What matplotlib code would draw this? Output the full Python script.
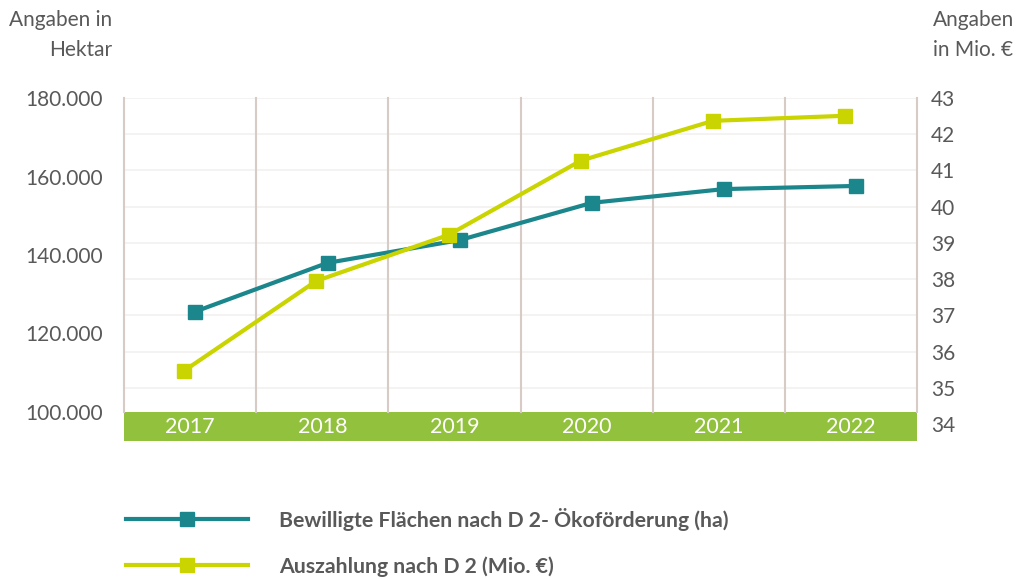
import matplotlib.pyplot as plt
import numpy as np
from matplotlib.lines import Line2D
from matplotlib.ticker import FuncFormatter
from matplotlib.transforms import blended_transform_factory

years = ["2017", "2018", "2019", "2020", "2021", "2022"]
flaechen_ha = [125600, 138000, 143800, 153300, 156800, 157600]
auszahlung_mio = [35.47, 37.95, 39.22, 41.27, 42.37, 42.51]

left_ticks = [100000, 120000, 140000, 160000, 180000]
right_ticks = [34, 35, 36, 37, 38, 39, 40, 41, 42, 43]

label_flaechen = "Bewilligte Flächen nach D 2- Ökoförderung (ha)"
label_auszahlung = "Auszahlung nach D 2 (Mio. €)"

teal = "#1b868b"
lime = "#c9d400"
band = "#92c13e"
grey = "#595959"
vgrid = "#d8cbc5"
hgrid = "#f3f1ef"

plt.rcParams["font.family"] = ["Lato", "DejaVu Sans"]

fig = plt.figure(figsize=(10.2, 5.79), dpi=100)
ax = fig.add_axes([0.1216, 0.2383, 0.7775, 0.5924])
ax2 = ax.twinx()

x = np.arange(len(years)) + 0.5

ax.set_xlim(0, len(years))
ax.set_ylim(92600, 180000)
ax2.set_ylim(33.53, 43)

# faint horizontal grid at the right-axis ticks, drawn behind everything
trans = blended_transform_factory(ax.transData, ax2.transData)
for t in right_ticks[1:]:
    ax.plot([0, len(years)], [t, t], color=hgrid, lw=1.2, zorder=0,
            transform=trans)

# green category band with the year labels
ax.axhspan(ax.get_ylim()[0], left_ticks[0], color=band, zorder=1, lw=0)
for xi, yr in zip(x, years):
    ax.text(xi, (ax.get_ylim()[0] + left_ticks[0]) / 2, yr, ha="center",
            va="center", color="white", fontsize=15.5, zorder=2)

# vertical separators between categories
for b in range(len(years) + 1):
    ax.plot([b, b], [left_ticks[0], 180000], color=vgrid, lw=1.5, zorder=1,
            clip_on=False)

ax.plot(x + 0.04, flaechen_ha, color=teal, lw=3, marker="s", ms=9.5,
        zorder=5)
ax2.plot(x - 0.045, auszahlung_mio, color=lime, lw=3, marker="s", ms=9.5,
         zorder=5)
ax2.set_zorder(ax.get_zorder() + 1)
ax2.patch.set_visible(False)

ax.set_yticks(left_ticks)
ax.yaxis.set_major_formatter(
    FuncFormatter(lambda v, p: f"{int(v):,}".replace(",", ".")))
ax2.set_yticks(right_ticks)
ax.set_xticks([])

for a in (ax, ax2):
    a.tick_params(axis="y", length=0, labelsize=15, labelcolor=grey)
    for s in a.spines.values():
        s.set_visible(False)
ax.tick_params(axis="y", pad=15)
ax2.tick_params(axis="y", pad=10)

fig.text(0.110, 0.982, "Angaben in\nHektar", ha="right", va="top",
         fontsize=15, color=grey, linespacing=1.6)
fig.text(0.915, 0.982, "Angaben\nin Mio. €", ha="left", va="top",
         fontsize=15, color=grey, linespacing=1.6)

handles = [
    Line2D([], [], color=teal, lw=3, marker="s", ms=9.5),
    Line2D([], [], color=lime, lw=3, marker="s", ms=9.5),
]
leg = fig.legend(handles, [label_flaechen, label_auszahlung],
                 loc="upper left", bbox_to_anchor=(0.115, 0.138),
                 frameon=False, handlelength=5.75, handletextpad=1.45,
                 labelspacing=1.2, fontsize=15.3, borderaxespad=0)
for t in leg.get_texts():
    t.set_color(grey)
    t.set_fontweight("bold")

fig.savefig("out.png", dpi=100)
